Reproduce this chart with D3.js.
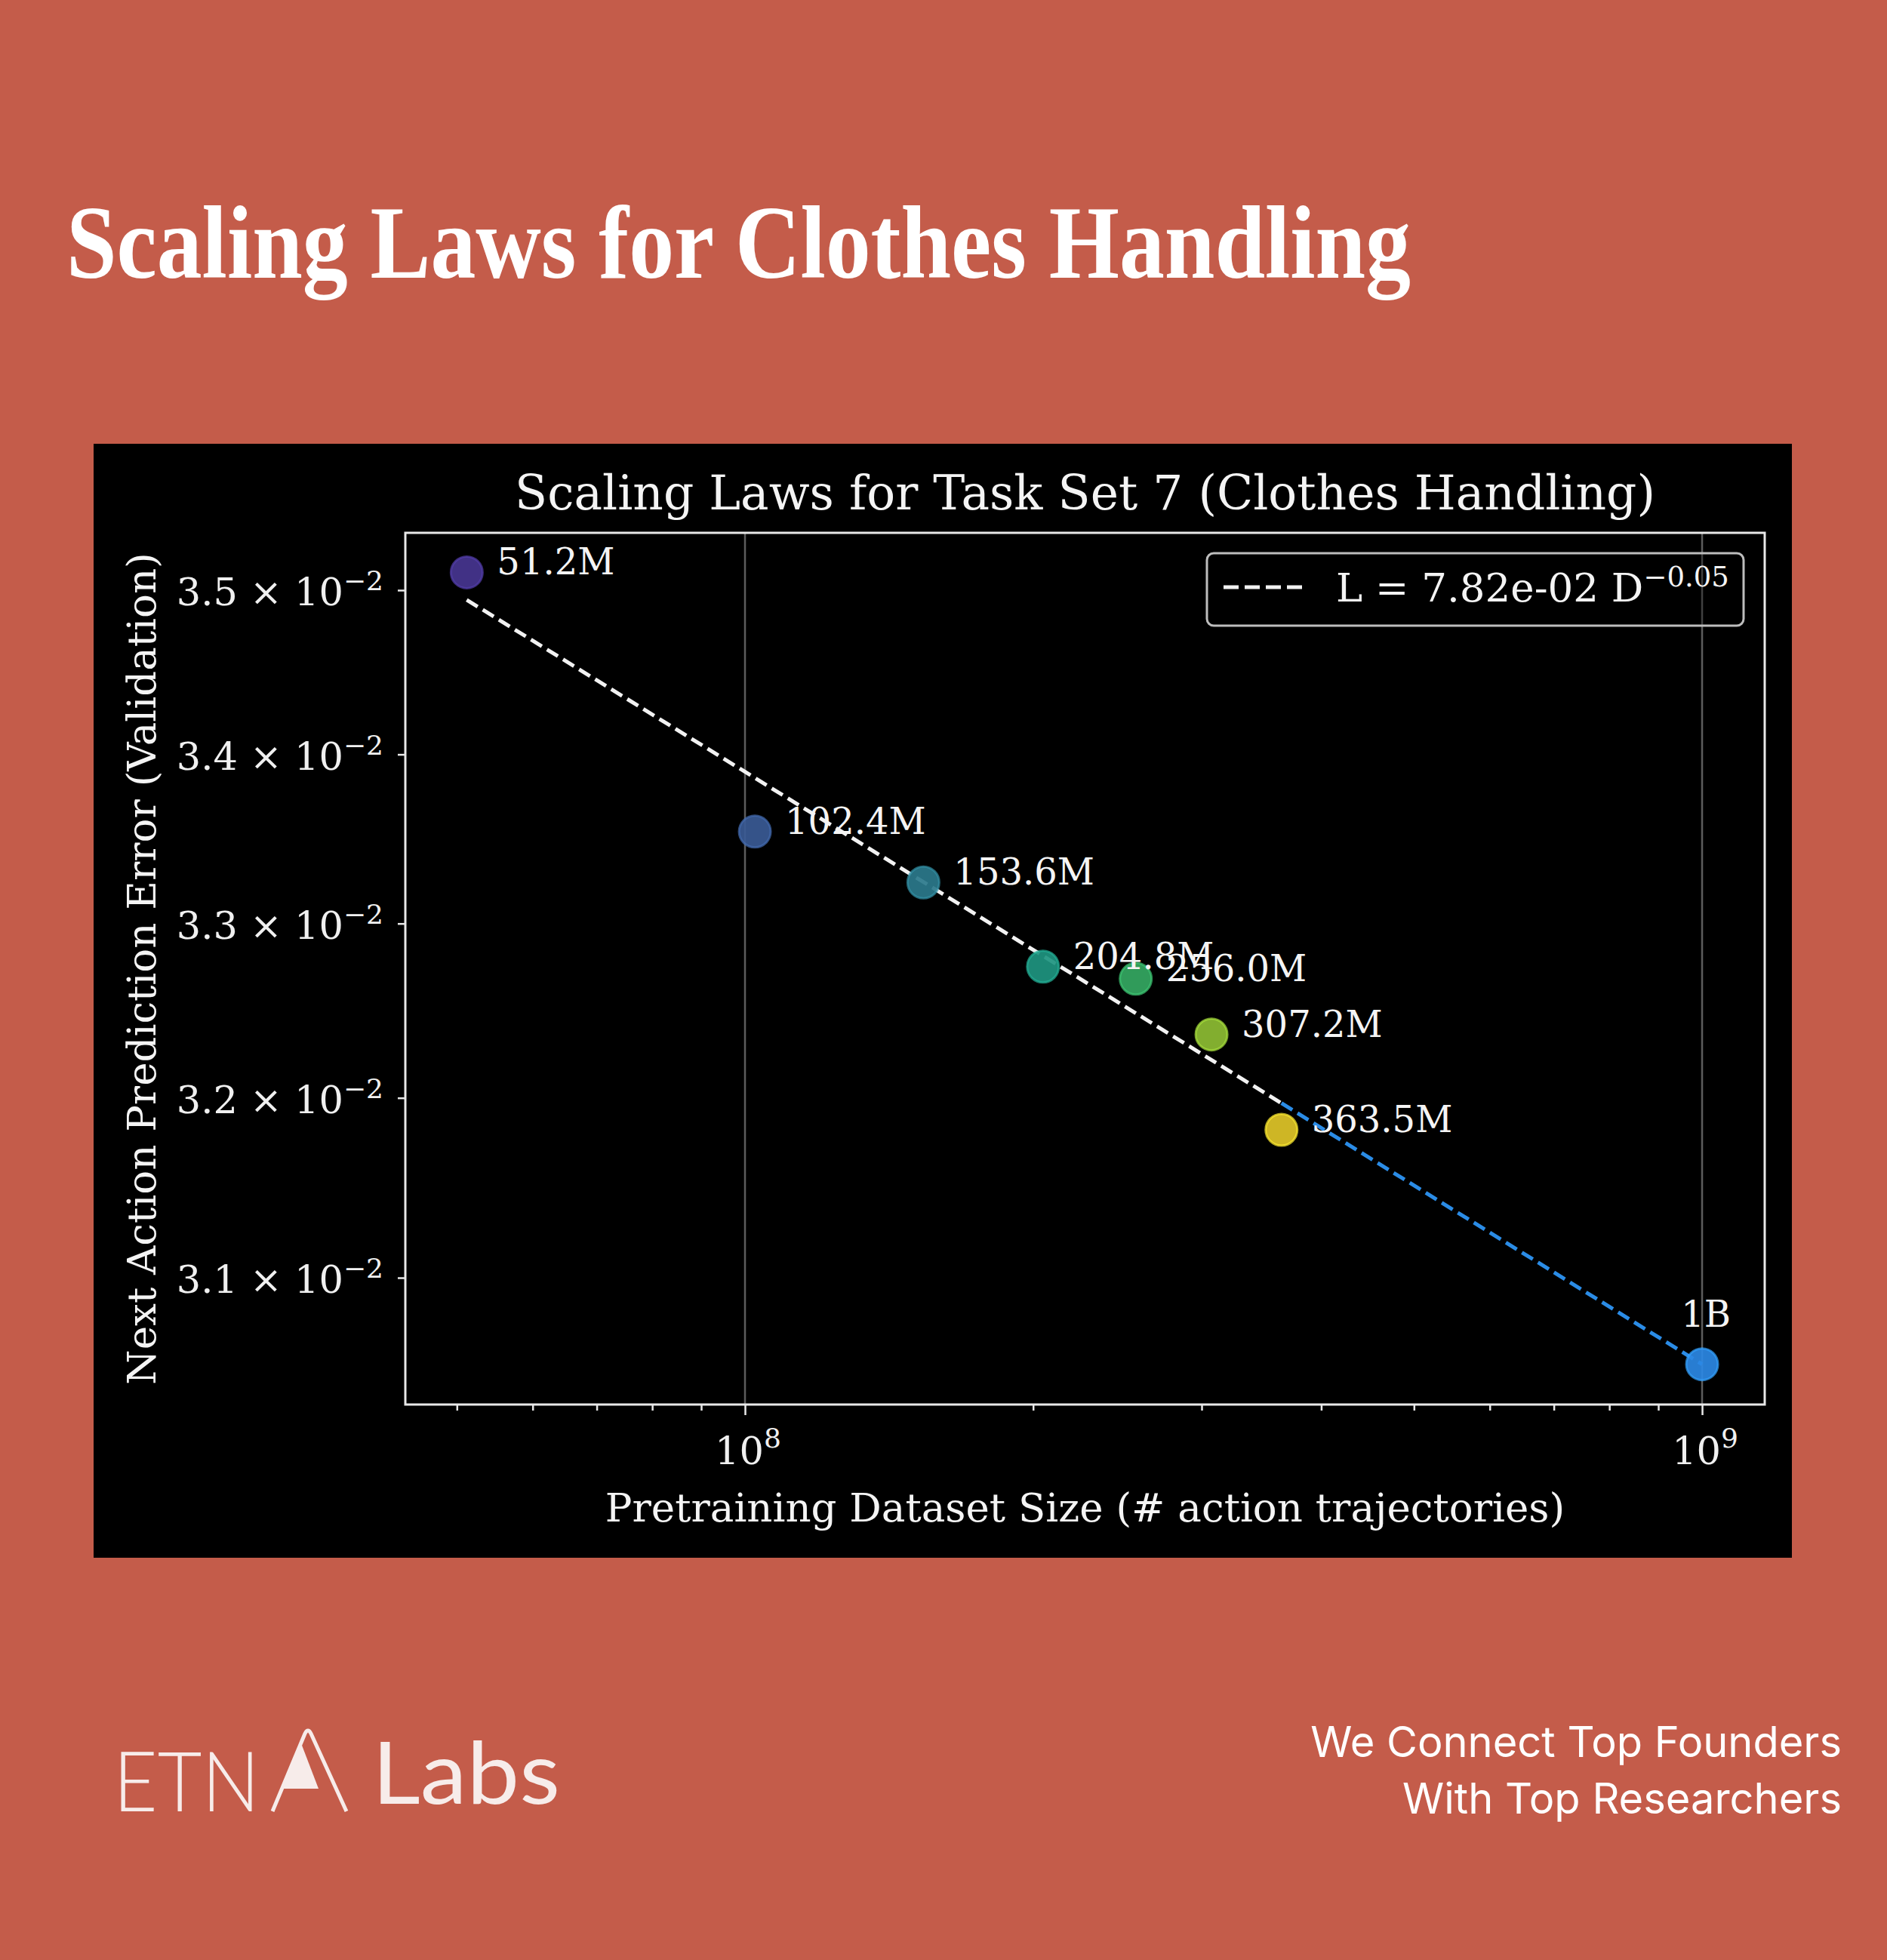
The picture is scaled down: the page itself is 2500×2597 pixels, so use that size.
<!DOCTYPE html>
<html><head><meta charset="utf-8">
<script src="https://cdn.jsdelivr.net/npm/d3@7"></script>
<style>html,body{margin:0;padding:0;background:#c45c4a;} svg{display:block}</style>
</head><body>
<script>
// ---------- data ----------
const datasetLabels = ["51.2M","102.4M","153.6M","204.8M","256.0M","307.2M","363.5M","1B"];
const datasetSize = [51.2e6,102.4e6,153.6e6,204.8e6,256.0e6,307.2e6,363.5e6,1e9];
const validationError = [0.03511,0.03354,0.03324,0.03275,0.03268,0.03236,0.03182,0.03053];
const fitSize = [51.2e6, 363.5e6, 1e9];
const fitError = [0.03494, 0.03197, 0.03053];
const xTickValues = [1e8, 1e9];
const xTickExponents = ["8","9"];
const xMinorTicks = [5e7,6e7,7e7,8e7,9e7,2e8,3e8,4e8,5e8,6e8,7e8,8e8,9e8];
const yTickValues = [0.031,0.032,0.033,0.034,0.035];
const yTickMantissas = ["3.1","3.2","3.3","3.4","3.5"];
const yTickExponent = "−2";
const fitLabel = "L = 7.82e-02 D";
const fitExponentLabel = "−0.05";
const pointColors = ["#463590","#3a5a95","#2b7a8c","#1e9580","#34a862","#8dbd33","#e0c628","#2b88e4"];

// ---------- layout ----------
const W = 2500, H = 2597;
const panel = {x:124, y:588, w:2250, h:1476};
const plot = {left:537, right:2338, top:706, bottom:1861};
const serif = "'DejaVu Serif', serif";

const svg = d3.select("body").append("svg").attr("width", W).attr("height", H);
svg.append("rect").attr("width", W).attr("height", H).attr("fill", "#c45c4a");

// page title
svg.append("text").attr("x", 88).attr("y", 368)
  .attr("font-family", "'Liberation Serif', serif").attr("font-weight", "bold")
  .attr("font-size", 138).attr("fill", "#ffffff")
  .attr("textLength", 1781).attr("lengthAdjust", "spacingAndGlyphs")
  .text("Scaling Laws for Clothes Handling");

// chart panel
svg.append("rect").attr("x", panel.x).attr("y", panel.y).attr("width", panel.w).attr("height", panel.h).attr("fill", "#000");

const x = d3.scaleLog().domain([4.4168e7, 1.1626e9]).range([plot.left, plot.right]);
const y = d3.scaleLog().domain([0.030314, 0.035356]).range([plot.bottom, plot.top]);

const g = svg.append("g");

// grid
g.selectAll("line.grid").data(xTickValues).join("line").attr("class","grid")
  .attr("x1", d => x(d)).attr("x2", d => x(d)).attr("y1", plot.top).attr("y2", plot.bottom)
  .attr("stroke", "#5c5c5c").attr("stroke-width", 2.5);

// fit lines
const line = d3.line().x(d => x(d[0])).y(d => y(d[1]));
const fitPts = fitSize.map((d,i) => [d, fitError[i]]);
g.append("path").attr("d", line(fitPts.slice(0,2))).attr("fill","none")
  .attr("stroke", "#f2f2f2").attr("stroke-width", 5).attr("stroke-dasharray", "17,8");
g.append("path").attr("d", line(fitPts.slice(1))).attr("fill","none")
  .attr("stroke", "#2b8ce6").attr("stroke-width", 5).attr("stroke-dasharray", "17,8");

// points
const pts = datasetSize.map((d,i) => ({x:d, y:validationError[i], label:datasetLabels[i], color:pointColors[i], last: i === datasetSize.length-1}));
g.selectAll("circle.pt").data(pts).join("circle").attr("class","pt")
  .attr("cx", d => x(d.x)).attr("cy", d => y(d.y)).attr("r", 21)
  .attr("fill", d => d.color).attr("fill-opacity", 0.92)
  .attr("stroke", d => d3.color(d.color).brighter(0.5)).attr("stroke-opacity", 0.7).attr("stroke-width", 3);

// point labels
g.selectAll("text.pl").data(pts).join("text").attr("class","pl")
  .attr("x", d => d.last ? x(d.x) + 5 : x(d.x) + 40)
  .attr("y", d => d.last ? y(d.y) - 50 : y(d.y) + 3)
  .attr("text-anchor", d => d.last ? "middle" : "start")
  .attr("font-family", serif).attr("font-size", 48).attr("fill", "#f4f4f4")
  .text(d => d.label);

// frame
g.append("rect").attr("x", plot.left).attr("y", plot.top)
  .attr("width", plot.right - plot.left).attr("height", plot.bottom - plot.top)
  .attr("fill", "none").attr("stroke", "#e8e8e8").attr("stroke-width", 3);

// x axis ticks
const xAxisMajor = d3.axisBottom(x).tickValues(xTickValues).tickSize(14).tickFormat(() => "");
const xAxisMinor = d3.axisBottom(x).tickValues(xMinorTicks).tickSize(8).tickFormat(() => "");
[xAxisMajor, xAxisMinor].forEach(ax => {
  const a = g.append("g").attr("transform", `translate(0,${plot.bottom})`).call(ax);
  a.select(".domain").remove();
  a.selectAll("line").attr("stroke", "#e8e8e8").attr("stroke-width", 2.5);
});
const xl = g.selectAll("text.xt").data(xTickValues).join("text").attr("class","xt")
  .attr("x", d => x(d) + 4).attr("y", 1940).attr("text-anchor", "middle")
  .attr("font-family", serif).attr("font-size", 51).attr("fill", "#f0f0f0");
xl.append("tspan").text("10");
xl.append("tspan").attr("dy", -22).attr("font-size", 36).text((d,i) => xTickExponents[i]);

// y axis ticks
const yAxis = d3.axisLeft(y).tickValues(yTickValues).tickSize(10).tickFormat(() => "");
const ya = g.append("g").attr("transform", `translate(${plot.left},0)`).call(yAxis);
ya.select(".domain").remove();
ya.selectAll("line").attr("stroke", "#e8e8e8").attr("stroke-width", 2.5);
const yl = g.selectAll("text.yt").data(yTickValues).join("text").attr("class","yt")
  .attr("x", 508).attr("y", d => y(d) + 20).attr("text-anchor", "end")
  .attr("font-family", serif).attr("font-size", 51).attr("fill", "#f0f0f0");
yl.append("tspan").text((d,i) => yTickMantissas[i] + " × 10");
yl.append("tspan").attr("dy", -20).attr("font-size", 36).text(yTickExponent);

// axis labels and title
const cx = (plot.left + plot.right) / 2;
g.append("text").attr("x", cx).attr("y", 675).attr("text-anchor", "middle")
  .attr("font-family", serif).attr("font-size", 63).attr("fill", "#f4f4f4")
  .text("Scaling Laws for Task Set 7 (Clothes Handling)");
g.append("text").attr("x", cx).attr("y", 2016).attr("text-anchor", "middle")
  .attr("font-family", serif).attr("font-size", 53).attr("fill", "#f4f4f4")
  .text("Pretraining Dataset Size (# action trajectories)");
g.append("text").attr("transform", `translate(206,${(plot.top + plot.bottom)/2}) rotate(-90)`)
  .attr("text-anchor", "middle")
  .attr("font-family", serif).attr("font-size", 53).attr("fill", "#f4f4f4")
  .text("Next Action Prediction Error (Validation)");

// legend
const lg = g.append("g");
lg.append("rect").attr("x", 1599).attr("y", 733).attr("width", 711).attr("height", 96).attr("rx", 9)
  .attr("fill", "#000").attr("fill-opacity", 0.3).attr("stroke", "#bdbdbd").attr("stroke-width", 3);
lg.append("line").attr("x1", 1621).attr("x2", 1727).attr("y1", 778).attr("y2", 778)
  .attr("stroke", "#f2f2f2").attr("stroke-width", 5).attr("stroke-dasharray", "20,8");
const lt = lg.append("text").attr("x", 1770).attr("y", 797)
  .attr("font-family", serif).attr("font-size", 53).attr("fill", "#f4f4f4");
lt.append("tspan").text(fitLabel);
lt.append("tspan").attr("dy", -20).attr("font-size", 37).text(fitExponentLabel);

// footer logo
const logoColor = "#f7ecea";
svg.append("text").attr("x", 150).attr("y", 2400)
  .attr("font-family", "Lato, sans-serif").attr("font-weight", 300).attr("font-size", 111)
  .attr("fill", logoColor).attr("textLength", 194).attr("lengthAdjust", "spacingAndGlyphs")
  .text("ETN");
svg.append("path").attr("d", "M375,2370 L399,2310 L422,2370 Z").attr("fill", logoColor);
svg.append("path").attr("d", "M361,2400 L404,2297 Q408,2289 412,2297 L459,2400")
  .attr("fill", "none").attr("stroke", logoColor).attr("stroke-width", 5).attr("stroke-linejoin", "round");
svg.append("text").attr("x", 493).attr("y", 2390)
  .attr("font-family", "Lato, sans-serif").attr("font-weight", 400).attr("font-size", 114)
  .attr("fill", logoColor).attr("textLength", 249).attr("lengthAdjust", "spacingAndGlyphs")
  .text("Labs");

// footer tagline
svg.append("text").attr("x", 2440).attr("y", 2328).attr("text-anchor", "end")
  .attr("font-family", "Inter, sans-serif").attr("font-size", 56).attr("fill", "#ffffff")
  .text("We Connect Top Founders");
svg.append("text").attr("x", 2440).attr("y", 2403).attr("text-anchor", "end")
  .attr("font-family", "Inter, sans-serif").attr("font-size", 56).attr("fill", "#ffffff")
  .text("With Top Researchers");
</script>
</body></html>
